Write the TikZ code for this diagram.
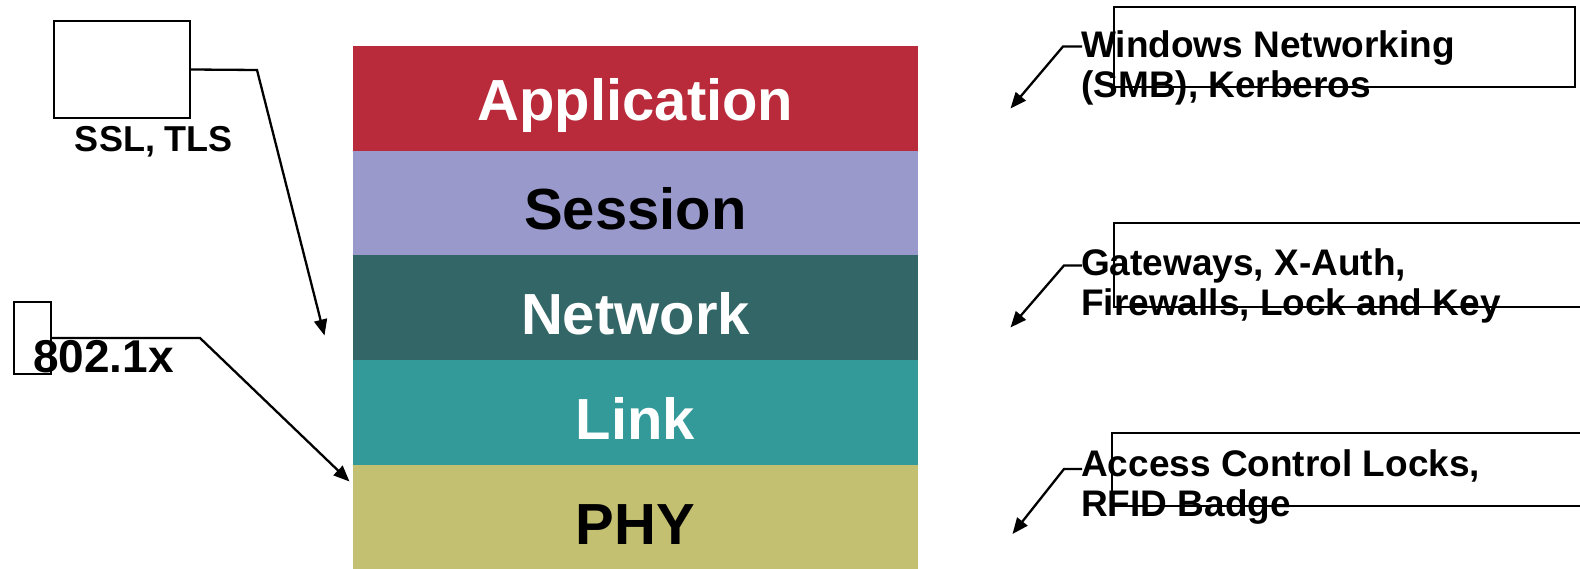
\documentclass[tikz,border=0pt]{standalone}
\usepackage{fontspec}
\setmainfont{Liberation Sans}
\usetikzlibrary{arrows.meta}
\definecolor{appc}{RGB}{185,43,58}
\definecolor{sesc}{RGB}{153,153,204}
\definecolor{netc}{RGB}{51,102,102}
\definecolor{linkc}{RGB}{51,153,153}
\definecolor{phyc}{RGB}{196,192,114}
\tikzset{
  layer/.style={minimum width=565pt, minimum height=104.6pt, inner sep=0pt, draw=none,
    text height=54pt, text depth=0pt, font=\bfseries\fontsize{58}{60}\selectfont},
  emptybox/.style={draw=black, line width=2.3pt, fill=none, inner sep=0pt},
  callout/.style={draw=black, line width=2.3pt},
  conn/.style={draw=black, line width=2.3pt, -{Triangle[length=16pt,width=13pt]}},
  sidelabel/.style={inner sep=0pt, align=left, font=\bfseries\fontsize{37}{40.5}\selectfont},
}
\begin{document}
\begin{tikzpicture}[x=1pt, y=-1pt]
\useasboundingbox (0,0) rectangle (1580,569);
% protocol stack
\node[layer, fill=appc, text=white, text height=44pt] (app) at (635.5,98.5) {Application};
\node[layer, fill=sesc, text=black]  (ses)  at (635.5,203)   {Session};
\node[layer, fill=netc, text=white]  (net)  at (635.5,307.5) {Network};
\node[layer, fill=linkc, text=white] (lnk)  at (635.5,412.5) {Link};
\node[layer, fill=phyc, text=black]  (phy)  at (635.5,517)   {PHY};

% left callouts
\node[emptybox, minimum width=136pt, minimum height=97pt] (b1) at (122,69.5) {};
\node[inner sep=0pt, anchor=base, font=\bfseries\fontsize{36}{40}\selectfont] (ssl) at (154,152) {SSL, TLS};
\coordinate (b1k) at (257,70);
\coordinate (b1t) at (324.5,335.5);
\draw[conn] (b1.east) -- (b1k) -- (b1t);

\node[emptybox, minimum width=37pt, minimum height=72pt] (b2) at (32.5,338) {};
\node[inner sep=0pt, anchor=base west, font=\bfseries\fontsize{46}{50}\selectfont] (dot) at (33,373) {802.1x};
\coordinate (b2k) at (200,338);
\coordinate (b2t) at (349.5,481.5);
\draw[conn] (b2.east) -- (b2k) -- (b2t);

% right callouts
\draw[callout] (1114,7) rectangle (1575,87);
\node[sidelabel, anchor=north west] (win) at (1081,30) {Windows Networking\\(SMB), Kerberos};
\coordinate (r1s) at (1082,46.5);
\coordinate (r1k) at (1063,46.5);
\coordinate (r1t) at (1010.5,108.5);
\draw[conn] (r1s) -- (r1k) -- (r1t);

\draw[callout] (1114,223) rectangle (1600,307);
\node[sidelabel, anchor=north west] (gw) at (1081,248) {Gateways, X-Auth,\\Firewalls, Lock and Key};
\coordinate (r2s) at (1082,265.5);
\coordinate (r2k) at (1064,265.5);
\coordinate (r2t) at (1010.5,327.5);
\draw[conn] (r2s) -- (r2k) -- (r2t);

\draw[callout] (1112,433) rectangle (1600,506);
\node[sidelabel, anchor=north west] (acc) at (1081,449) {Access Control Locks,\\RFID Badge};
\coordinate (r3s) at (1082,469);
\coordinate (r3k) at (1064,469);
\coordinate (r3t) at (1012.5,534);
\draw[conn] (r3s) -- (r3k) -- (r3t);
\end{tikzpicture}
\end{document}
